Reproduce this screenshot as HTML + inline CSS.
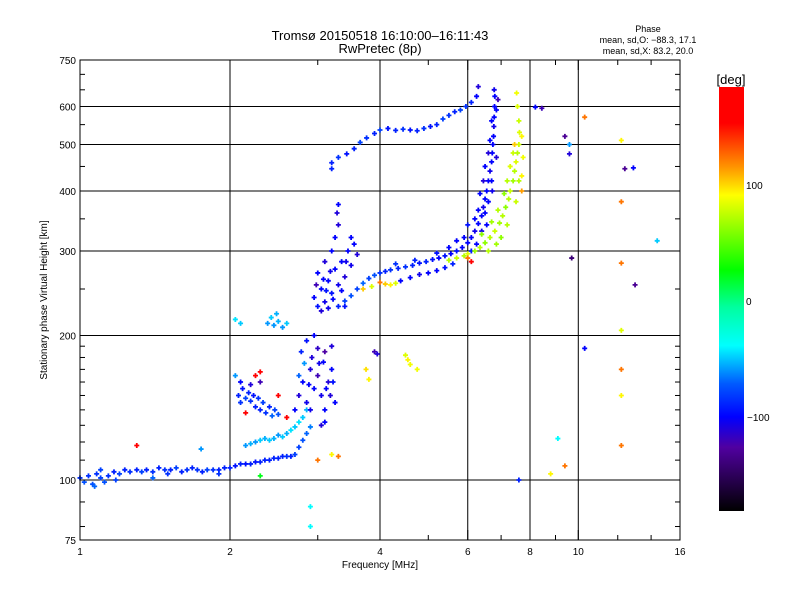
<!DOCTYPE html>
<html><head><meta charset="utf-8">
<style>
html,body{margin:0;padding:0;background:#fff;}
svg{display:block;font-family:"Liberation Sans",sans-serif;}
</style></head>
<body>
<svg id="chart" width="800" height="600" viewBox="0 0 800 600">
  <rect width="800" height="600" fill="#fff"/>
  <text x="380" y="40" font-size="13" text-anchor="middle">Tromsø 20150518 16:10:00–16:11:43</text>
  <text x="380" y="53" font-size="13" text-anchor="middle">RwPretec (8p)</text>
  <text x="648" y="32" font-size="9" text-anchor="middle">Phase</text>
  <text x="648" y="43" font-size="9" text-anchor="middle">mean, sd,O: −88.3, 17.1</text>
  <text x="648" y="54" font-size="9" text-anchor="middle">mean, sd,X:  83.2, 20.0</text>
  <text x="380" y="568" font-size="10" text-anchor="middle">Frequency [MHz]</text>
  <text transform="translate(47,300) rotate(-90)" font-size="10" text-anchor="middle">Stationary phase Virtual Height [km]</text>
  <text x="731" y="84" font-size="13" text-anchor="middle">[deg]</text>
  <g id="grid"></g>
  <g id="marks"></g>
  <g id="axes"></g>
  <g id="cbar"></g>
</svg>
<script>
// ---- data: [frequency MHz, virtual height km, phase deg]
const eLow=[[1.0,101,-85],[1.02,99,-75],[1.04,102,-85],[1.06,98,-75],[1.08,103,-85],[1.1,101,-80],[1.12,99,-75],[1.14,102,-85],[1.17,104,-90],[1.2,103,-80],[1.23,105,-90],[1.26,104,-85],[1.3,105,-90],[1.33,104,-80],[1.36,105,-90],[1.4,104,-85],[1.44,106,-90],[1.48,105,-85],[1.52,105,-90],[1.56,106,-80],[1.6,104,-90],[1.64,105,-85],[1.68,106,-90],[1.72,105,-85],[1.76,104,-90],[1.8,105,-80],[1.85,105,-85],[1.9,105,-90],[1.95,106,-90],[2.0,106,-90],[2.05,107,-95],[2.1,108,-90],[2.15,108,-95],[2.2,108,-90],[2.25,109,-95],[2.3,109,-90],[2.35,110,-90],[2.4,110,-90],[2.45,111,-90],[2.5,111,-90],[2.55,112,-90],[2.6,112,-85],[2.65,112,-90],[2.7,113,-80],[2.75,117,-80],[2.8,121,-75],[2.85,125,-70],[2.9,129,-65],[1.07,97,-70],[1.18,100,-80],[1.1,105,-80],[1.5,103,-85],[1.9,103,-85]];
const eUpper=[[2.15,118,-60],[2.2,119,-55],[2.25,120,-60],[2.3,121,-50],[2.35,122,-55],[2.4,121,-50],[2.45,122,-55],[2.5,124,-60],[2.55,123,-50],[2.6,125,-55],[2.65,127,-45],[2.7,129,-50],[2.75,132,-45],[2.8,135,-50],[2.85,140,-55]];
const cluster1=[[2.08,150,-90],[2.1,145,-85],[2.12,155,-95],[2.15,148,-80],[2.18,152,-90],[2.2,146,-85],[2.23,150,-95],[2.25,142,-90],[2.28,148,-85],[2.3,140,-90],[2.33,145,-80],[2.36,138,-85],[2.4,142,-90],[2.43,136,-70],[2.46,140,-80],[2.5,137,-75],[2.1,160,-100],[2.2,158,-110],[2.3,160,-120],[2.05,165,-60],[2.3,168,150],[2.25,165,160],[1.3,118,165],[2.5,150,170],[2.6,135,165],[2.15,138,170]];
const cluster2=[[2.7,140,-100],[2.75,150,-110],[2.8,160,-100],[2.85,145,-105],[2.9,170,-110],[2.95,155,-100],[3.0,165,-120],[3.05,150,-105],[3.1,140,-100],[3.15,160,-110],[3.2,170,-100],[2.78,185,-90],[2.85,195,-95],[2.92,180,-110],[3.0,188,-115],[3.08,176,-100],[2.9,140,-105],[3.1,132,-100],[3.18,150,-110],[2.82,175,-60],[3.2,190,-110],[2.95,200,-100],[3.05,130,-110],[3.22,160,-95],[3.25,145,-100],[2.75,165,-70],[3.1,185,-125],[2.88,158,-100],[3.02,175,-105],[3.12,155,-100]];
const cyanBlob=[[2.38,212,-60],[2.42,218,-50],[2.45,210,-60],[2.5,214,-55],[2.55,208,-60],[2.6,212,-50],[2.48,222,-55],[2.05,216,-45],[2.1,212,-50]];
const cluster3=[[2.95,240,-100],[3.0,230,-95],[3.05,250,-100],[3.1,235,-105],[3.15,260,-100],[3.2,245,-95],[3.25,275,-100],[3.3,255,-105],[3.35,285,-100],[3.4,265,-110],[3.45,300,-100],[3.5,280,-105],[3.55,310,-100],[3.6,295,-110],[3.0,270,-100],[3.1,285,-110],[3.2,300,-100],[3.25,320,-100],[3.3,340,-110],[3.28,360,-110],[3.3,375,-100],[3.5,320,-100],[3.05,225,-110],[3.4,230,-95],[3.15,228,-105],[2.98,255,-120],[3.08,262,-100],[3.18,272,-105],[3.22,238,-100],[3.35,248,-100],[3.12,248,-95],[3.42,285,-105]];
const mainF=[[3.3,230,-90],[3.4,236,-80],[3.5,242,-75],[3.6,250,-80],[3.7,257,-70],[3.8,263,-80],[3.9,267,-75],[4.0,270,-85],[4.1,272,-90],[4.2,274,-85],[4.35,276,-90],[4.5,278,-85],[4.65,280,-90],[4.8,283,-95],[4.95,285,-90],[5.1,288,-95],[5.25,290,-100],[5.4,293,-95],[5.55,296,-100],[5.7,300,-95],[5.85,305,-100],[6.0,312,-100],[6.1,320,-100],[6.2,330,-105],[6.3,342,-100],[6.4,355,-100],[6.45,370,-105],[6.5,385,-100],[6.55,400,-100],[6.6,420,-100],[6.65,440,-105],[6.7,460,-100],[6.72,480,-100],[6.74,500,-100],[6.76,520,-100],[6.77,545,-105],[6.78,570,-100],[6.79,600,-100],[6.8,630,-100],[6.78,650,-105],[6.2,350,-100],[6.3,365,-100],[6.35,395,-100],[6.45,420,-110],[6.5,450,-100],[6.6,480,-110],[6.65,510,-100],[5.9,320,-100],[6.0,340,-95],[6.55,340,-100],[6.4,330,-105],[5.5,305,-100],[5.7,315,-100],[6.1,300,-90],[6.6,380,-100],[6.7,420,-100],[6.85,470,-110],[6.9,620,-120],[4.3,282,-85],[4.7,287,-90],[5.2,297,-95],[6.25,310,-100],[6.5,360,-100],[6.7,560,-100],[6.85,590,-100],[6.72,400,-105]];
const lowerF=[[4.0,258,120],[4.1,256,100],[4.2,255,90],[4.3,257,80],[4.4,260,-100],[4.6,264,-100],[4.8,268,-105],[5.0,270,-100],[5.2,273,-100],[5.4,277,-95],[5.6,282,-90],[3.7,250,100],[3.85,253,80]];
const xTrace=[[5.5,287,70],[5.7,290,75],[5.9,293,70],[6.0,296,80],[6.2,300,65],[6.35,305,70],[6.5,312,60],[6.65,320,70],[6.8,330,75],[6.95,343,65],[7.05,355,70],[7.15,370,60],[7.25,385,70],[7.3,400,75],[7.4,420,65],[7.45,440,70],[7.5,460,80],[7.55,480,70],[7.6,500,75],[7.62,530,80],[7.6,560,75],[7.55,600,80],[7.52,640,85],[6.4,325,60],[6.7,345,65],[6.9,365,70],[7.1,395,60],[7.2,420,70],[7.3,450,80],[7.4,480,75],[7.7,430,90],[7.75,470,85],[7.7,520,90],[7.45,500,100],[6.6,300,70],[7.0,320,60],[6.0,290,120],[6.1,285,150],[7.7,400,110],[6.85,310,65],[7.2,340,70],[7.5,380,75],[7.6,420,70]];
const upperF=[[3.2,458,-90],[3.3,470,-85],[3.43,478,-95],[3.55,490,-90],[3.65,505,-80],[3.76,516,-85],[3.9,527,-90],[4.0,536,-80],[4.15,540,-95],[4.3,535,-90],[4.45,538,-85],[4.6,536,-95],[4.75,534,-90],[4.9,540,-85],[5.05,545,-95],[5.2,550,-90],[5.35,565,-80],[5.5,575,-85],[5.65,585,-90],[5.8,590,-80],[5.95,600,-85],[6.1,612,-90],[6.25,630,-100],[6.3,660,-110],[3.2,445,-90]];
const scatter=[[3.9,185,-120],[3.95,183,-110],[4.5,182,80],[4.55,178,90],[4.6,174,85],[3.75,170,95],[3.8,162,90],[4.75,170,85],[8.2,598,-100],[8.45,595,-120],[9.4,520,-130],[9.6,478,-110],[9.6,500,-60],[10.3,570,120],[12.2,510,90],[12.4,445,-130],[12.9,447,-100],[12.2,380,120],[14.4,315,-50],[12.2,283,120],[13.0,255,-130],[9.7,290,-140],[10.3,188,-100],[12.2,205,80],[12.2,170,120],[12.2,150,90],[12.2,118,120],[9.1,122,-40],[9.4,107,120],[8.8,103,90],[7.6,100,-90],[2.9,88,-40],[2.9,80,-40],[3.0,110,120],[3.3,112,120],[3.2,113,90],[1.75,116,-60],[2.3,102,20],[1.4,101,-70]];
const xTickVals=[1,2,4,6,8,10,16];
const xMinorVals=[3,5,7,9,12,14];
const yTickVals=[75,100,200,300,400,500,600,750];
const yGridVals=[100,200,300,400,500,600];
const yMinorVals=[80,90,110,120,130,140,150,160,170,180,190,250,350,450,550,650,700];
const cbTickVals=[-100,0,100];

const NS='http://www.w3.org/2000/svg';
const L=80,R=680,T=60,B=540;
function X(f){return L+150*Math.log2(f);}
function Y(h){return 480-480*Math.log10(h/100);}
function CY(p){return 301-1.16*p;}
function mk(tag,attrs,parent){const e=document.createElementNS(NS,tag);for(const k in attrs)e.setAttribute(k,attrs[k]);parent.appendChild(e);return e;}
const stops=[[0,[0,0,0]],[0.15,[80,0,160]],[0.222,[0,0,255]],[0.3,[0,90,255]],[0.39,[0,255,255]],[0.48,[0,255,160]],[0.568,[0,255,0]],[0.745,[255,255,0]],[0.81,[255,150,0]],[0.915,[255,0,0]],[1,[255,0,0]]];
function col(p){let t=(p+180)/360;t=Math.max(0,Math.min(1,t));for(let i=1;i<stops.length;i++){if(t<=stops[i][0]){const a=stops[i-1],b=stops[i];const u=(t-a[0])/(b[0]-a[0]||1);const c=a[1].map((v,j)=>Math.round(v+(b[1][j]-v)*u));return 'rgb('+c.join(',')+')';}}return 'rgb(255,0,0)';}

const grid=document.getElementById('grid');
xTickVals.slice(1,-1).forEach(v=>{
  const ln=mk('line',{x1:X(v),x2:X(v),y1:T,y2:B,stroke:'#000','stroke-width':1},grid);
  
  
});
yGridVals.forEach(v=>{
  const ln=mk('line',{x1:L,x2:R,y1:Y(v),y2:Y(v),stroke:'#000','stroke-width':1},grid);
  
  
});

const marks=document.getElementById('marks');
const series={eLow,eUpper,cluster1,cluster2,cyanBlob,cluster3,mainF,lowerF,xTrace,upperF,scatter};
for(const name in series){
  const g=mk('g',{},marks);
  
  
  series[name].forEach(d=>{
    const x=X(d[0]),y=Y(d[1]),c=col(d[2]);
    const pt=mk('path',{d:`M${x-2.5} ${y}h5M${x} ${y-2.5}v5`,stroke:c,'stroke-width':1.8},g);
    
    
  });
}

const axes=document.getElementById('axes');
const frame=mk('rect',{x:L,y:T,width:R-L,height:B-T,fill:'none',stroke:'#000','stroke-width':1},axes);


xTickVals.forEach(v=>{
  const x=X(v);
  mk('line',{x1:x,x2:x,y1:B,y2:B-10,stroke:'#000'},axes);
  mk('line',{x1:x,x2:x,y1:T,y2:T+10,stroke:'#000'},axes);
  const t=mk('text',{x:x,y:B+15,'font-size':10,'text-anchor':'middle'},axes);
  t.textContent=v;
  
  
});
xMinorVals.forEach(v=>{
  const x=X(v);
  mk('line',{x1:x,x2:x,y1:B,y2:B-5,stroke:'#000'},axes);
  mk('line',{x1:x,x2:x,y1:T,y2:T+5,stroke:'#000'},axes);
});
yTickVals.forEach(v=>{
  const y=Y(v);
  mk('line',{x1:L,x2:L+10,y1:y,y2:y,stroke:'#000'},axes);
  mk('line',{x1:R,x2:R-10,y1:y,y2:y,stroke:'#000'},axes);
  const t=mk('text',{x:L-4,y:y+4,'font-size':10,'text-anchor':'end'},axes);
  t.textContent=v;
  
  
});
yMinorVals.forEach(v=>{
  const y=Y(v);
  mk('line',{x1:L,x2:L+5,y1:y,y2:y,stroke:'#000'},axes);
  mk('line',{x1:R,x2:R-5,y1:y,y2:y,stroke:'#000'},axes);
});

const cbar=document.getElementById('cbar');
const grad=mk('linearGradient',{id:'cg',x1:0,y1:1,x2:0,y2:0},mk('defs',{},cbar));
stops.forEach(s=>mk('stop',{offset:s[0],'stop-color':'rgb('+s[1].join(',')+')'},grad));
const cb=mk('rect',{x:719,y:87,width:25,height:424,fill:'url(#cg)'},cbar);


cbTickVals.forEach(v=>{
  const t=mk('text',{x:v<0?747:746,y:CY(v)+4,'font-size':10},cbar);
  t.textContent=v<0?'−'+(-v):String(v);
  
  
});
</script>
</body></html>
